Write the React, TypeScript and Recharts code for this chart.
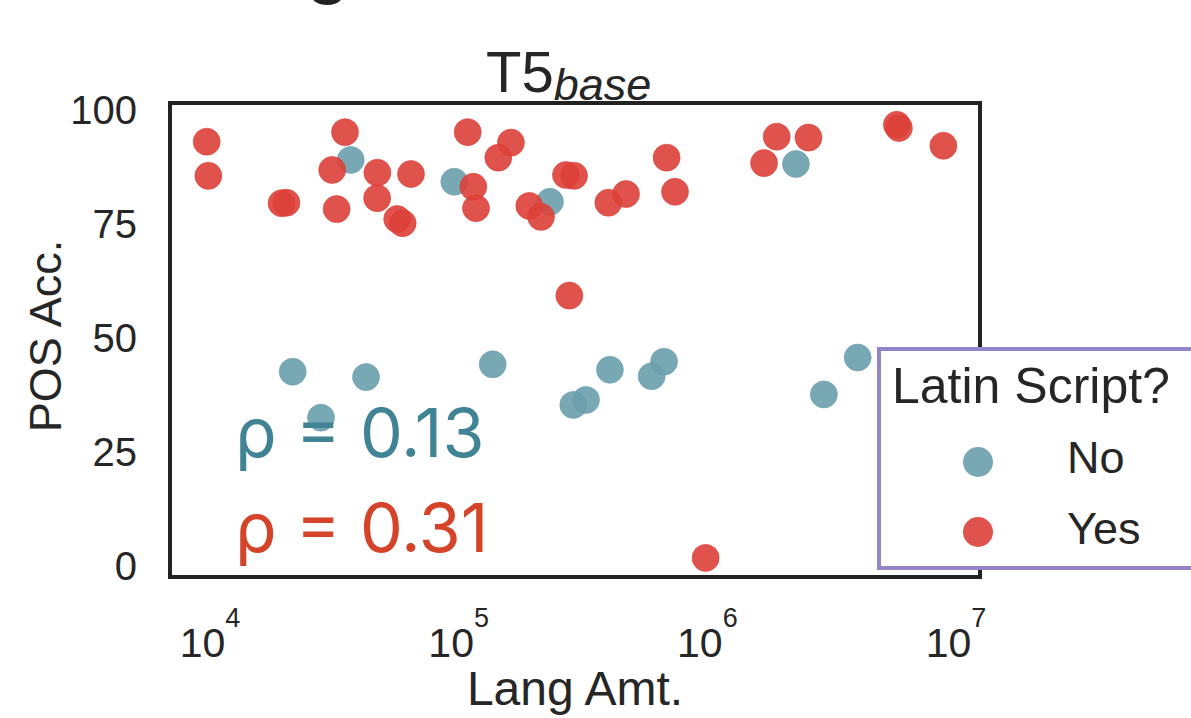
import React from "react";
import { ScatterChart, Scatter, XAxis, YAxis, Legend, ReferenceArea, Label } from "recharts";

// Latin Script? = No
const noLangAmt = [36800, 96000, 232800, 2270000, 21500, 42400, 27950, 137000, 289000, 325000, 405600, 597000, 669500, 2940000, 4020000];
const noPosAcc = [89.0, 84.2, 79.8, 88.1, 42.5, 41.3, 32.4, 44.1, 35.2, 36.3, 42.9, 41.5, 44.7, 37.5, 45.6];

// Latin Script? = Yes
const yesLangAmt = [
  9700, 9850, 19400, 20300, 34900, 31000, 32300, 47100, 47000, 56600, 59500, 64300, 108700, 162200, 144300, 114500, 117400,
  192300, 214300, 270000, 291000, 278600, 685500, 741000, 399700, 470800, 1900000, 2550000, 1690000, 5780000, 5890000, 8890000, 984000,
];
const yesPosAcc = [
  93.0, 85.5, 79.5, 79.6, 95.1, 86.8, 78.2, 86.2, 80.6, 76.0, 75.1, 85.9, 95.1, 92.8, 89.5, 83.1, 78.4,
  78.9, 76.5, 85.7, 85.5, 59.2, 89.5, 82.0, 79.6, 81.5, 94.1, 93.9, 88.3, 96.7, 96.0, 92.1, 1.6,
];

const xTicks = [1e4, 1e5, 1e6, 1e7];
const yTicks = [0, 25, 50, 75, 100];
const xDomain = [6905, 12480000];
const yDomain = [-2.6, 101.5];

const BLUE = "#6a9fad";
const RED = "#dd4038";
const TEXT = "#262626";
const FONT = "'Liberation Sans', Arial, sans-serif";

const noData = noLangAmt.map((x, i) => ({ x, y: noPosAcc[i] }));
const yesData = yesLangAmt.map((x, i) => ({ x, y: yesPosAcc[i] }));

const Dot = (props: any) => (
  <circle cx={props.cx} cy={props.cy} r={13.5} fill={props.fill} fillOpacity={0.9} stroke={props.fill} strokeOpacity={0.6} strokeWidth={1} />
);

const XTick = (props: any) => {
  const exp = Math.round(Math.log10(props.payload.value));
  return (
    <text x={props.x} y={props.y + 80} textAnchor="middle" fontSize={41} fill={TEXT} fontFamily={FONT}>
      <tspan>10</tspan>
      <tspan dy={-30} fontSize={27}>{exp}</tspan>
    </text>
  );
};

const YTick = (props: any) => (
  <text x={props.x} y={props.y} dy="0.36em" textAnchor="end" fontSize={40} fill={TEXT} fontFamily={FONT}>
    {props.payload.value}
  </text>
);

const renderLegend = (props: any) => {
  const payload = props.payload || [];
  return (
    <svg width={330} height={227} style={{ display: "block" }}>
      <rect x={2} y={2} width={340} height={219} fill="#fff" stroke="#9484c8" strokeWidth={4} />
      <text x={15} y={56} fontSize={50} fill={TEXT} fontFamily={FONT}>Latin Script?</text>
      {payload.map((entry: any, i: number) => (
        <g key={entry.value}>
          <circle cx={101} cy={115 + i * 70} r={15} fill={entry.color} fillOpacity={0.9} />
          <text x={190} y={126 + i * 71} fontSize={45} fill={TEXT} fontFamily={FONT}>{entry.value}</text>
        </g>
      ))}
    </svg>
  );
};

export default function App() {
  return (
    <div style={{ position: "absolute", left: 0, top: 0, width: 1191, height: 718, overflow: "hidden", background: "#fff" }}>
      <ScatterChart width={1191} height={718} margin={{ top: 103, right: 211, bottom: 0, left: 0 }}>
        <XAxis
          dataKey="x"
          type="number"
          scale="log"
          domain={xDomain}
          allowDataOverflow
          ticks={xTicks}
          tick={<XTick />}
          tickLine={false}
          axisLine={false}
          tickSize={0}
          tickMargin={0}
          height={141}
        >
          <Label
            content={(p: any) => (
              <text x={p.viewBox.x + p.viewBox.width / 2} y={705} textAnchor="middle" fontSize={48} fill={TEXT} fontFamily={FONT}>
                Lang Amt.
              </text>
            )}
          />
        </XAxis>
        <YAxis
          dataKey="y"
          type="number"
          domain={yDomain}
          allowDataOverflow
          ticks={yTicks}
          tick={<YTick />}
          tickLine={false}
          axisLine={false}
          tickSize={0}
          tickMargin={33}
          width={170}
        >
          <Label
            content={(p: any) => {
              const cy = p.viewBox.y + p.viewBox.height / 2 - 4;
              return (
                <text x={61} y={cy} transform={`rotate(-90, 61, ${cy})`} textAnchor="middle" fontSize={45} fill={TEXT} fontFamily={FONT}>
                  POS Acc.
                </text>
              );
            }}
          />
        </YAxis>
        <ReferenceArea x1={xDomain[0]} x2={xDomain[1]} y1={yDomain[0]} y2={yDomain[1]} fill="none" stroke="#222" strokeWidth={4} ifOverflow="visible" />
        <Scatter name="No" data={noData} fill={BLUE} shape={<Dot />} legendType="circle" isAnimationActive={false} />
        <Scatter name="Yes" data={yesData} fill={RED} shape={<Dot />} legendType="circle" isAnimationActive={false} />
        <Legend
          layout="horizontal"
          verticalAlign="middle"
          align="center"
          content={renderLegend}
          wrapperStyle={{ position: "absolute", left: 877, top: 347, width: 330, height: 227, margin: 0, padding: 0 }}
        />
      </ScatterChart>
      <svg width={1191} height={718} style={{ position: "absolute", left: 0, top: 0, pointerEvents: "none" }}>
        <text x={328} y={-12} textAnchor="middle" fontSize={80} fill="#222" fontFamily={FONT}>g</text>
        <text x={486} y={92} fontSize={58} fill={TEXT} fontFamily={FONT}>
          T5
          <tspan dy={8} fontSize={45} fontStyle="italic">base</tspan>
        </text>
        <text x={235} y={457} fontSize={68} fill="#3f8395" fontFamily="Inter, 'Liberation Sans', sans-serif">ρ = 0.13</text>
        <text x={235} y={552} fontSize={68} fill="#d54328" fontFamily="Inter, 'Liberation Sans', sans-serif">ρ = 0.31</text>
      </svg>
    </div>
  );
}
